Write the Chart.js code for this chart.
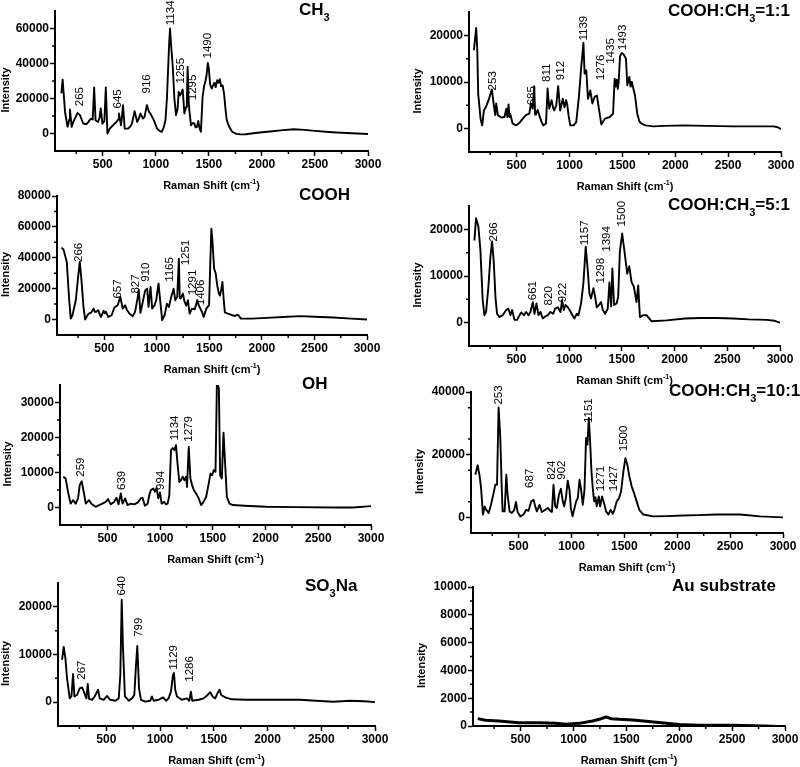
<!DOCTYPE html>
<html>
<head>
<meta charset="utf-8">
<script src="https://cdn.jsdelivr.net/npm/chart.js@4.4.1/dist/chart.umd.min.js"></script>
<style>
  html, body { margin: 0; padding: 0; background: #fff; }
  #wrap { position: relative; width: 800px; height: 767px; overflow: hidden; }
  #wrap canvas { position: absolute; }
</style>
</head>
<body>
<div id="wrap"></div>
<script>
// ---- data: [Raman shift (cm-1), intensity] ----
const ch3Spectrum = [[110,23000],[122,30800],[145,12000],[169,3800],[185,8000],[191,13700],[207,3800],[222,6600],[245,9500],[263,11800],[285,10500],[316,5700],[347,5300],[363,6500],[388,8500],[405,8000],[419,26300],[432,7600],[456,6600],[470,9000],[481,14300],[497,5700],[515,7000],[529,26300],[544,0],[566,2800],[597,4700],[629,6600],[645,8000],[653,11400],[672,4700],[680,9000],[691,16200],[707,2800],[738,2800],[760,4000],[775,5700],[800,12700],[825,6600],[840,8500],[856,11400],[879,8500],[894,9500],[916,16200],[935,12500],[950,11400],[981,7600],[1013,2800],[1035,1500],[1056,1000],[1075,3500],[1091,7600],[1105,20000],[1113,32400],[1125,50000],[1134,60000],[1145,50000],[1160,38100],[1175,20000],[1191,10500],[1205,14000],[1216,23800],[1228,21700],[1240,23000],[1253,25100],[1262,18000],[1269,11400],[1285,15200],[1293,20000],[1300,38100],[1308,20000],[1316,13300],[1332,4700],[1348,6000],[1363,5700],[1375,3500],[1388,3800],[1400,7200],[1412,3000],[1425,1000],[1441,20900],[1455,27000],[1468,30000],[1478,33000],[1490,40300],[1500,37000],[1512,28000],[1527,25700],[1540,27500],[1553,29000],[1565,26500],[1578,30500],[1590,29000],[1603,31000],[1615,27000],[1630,27500],[1645,22000],[1655,15000],[1668,8000],[1683,5000],[1700,3000],[1720,1000],[1760,-200],[1800,-500],[1850,-400],[1900,0],[2000,700],[2100,1300],[2200,1900],[2300,2400],[2400,2100],[2500,1500],[2600,1000],[2700,600],[2800,300],[2900,0],[3000,-300]];
const cooh11Spectrum = [[96,16800],[118,21600],[128,17000],[137,7500],[160,2000],[175,700],[191,3900],[213,4800],[235,6100],[254,7500],[266,8400],[285,5000],[298,2900],[307,5400],[323,2900],[355,2400],[386,2500],[402,4300],[413,2500],[424,5200],[432,2500],[440,3200],[462,1100],[494,700],[525,1200],[557,2100],[588,2900],[620,3200],[636,5400],[652,4300],[667,9100],[675,3000],[683,3200],[700,4000],[714,2900],[735,1500],[752,700],[778,1100],[793,8600],[809,4300],[831,6100],[845,4500],[856,3900],[875,5000],[893,9100],[912,3900],[937,6400],[953,4600],[969,6100],[980,5000],[991,2900],[1007,700],[1039,700],[1064,1400],[1089,6800],[1111,13200],[1132,18400],[1143,11800],[1159,12500],[1175,6400],[1197,8200],[1216,5400],[1238,6800],[1260,7100],[1276,4600],[1301,900],[1333,2100],[1380,2500],[1412,3200],[1427,10700],[1437,9000],[1447,10500],[1457,8500],[1465,10000],[1478,15500],[1493,16200],[1510,16000],[1534,15000],[1547,9300],[1566,11100],[1578,9000],[1590,10000],[1604,8600],[1620,7000],[1641,3200],[1662,1500],[1682,1100],[1720,700],[1793,500],[1900,600],[2077,700],[2300,600],[2549,500],[2800,500],[2928,500],[2970,300],[3000,-100]];
const coohSpectrum = [[92,46600],[110,45500],[118,43800],[143,37300],[166,12500],[181,600],[197,2800],[229,12500],[251,27600],[267,37300],[283,25400],[302,8200],[318,0],[340,2800],[355,4000],[372,4300],[385,5500],[398,7100],[410,5000],[420,5000],[443,6000],[458,3000],[468,1700],[494,5600],[505,4000],[516,5000],[538,1700],[570,2800],[596,7800],[627,9300],[653,14700],[675,7100],[698,9300],[717,6000],[739,3900],[771,2200],[793,5000],[818,14200],[828,19400],[844,4300],[866,11400],[889,18900],[908,20000],[921,8200],[940,21100],[956,7100],[978,9300],[994,12500],[1016,23300],[1035,10300],[1051,-400],[1074,2800],[1096,10300],[1115,8200],[1137,14700],[1160,20000],[1175,12500],[1194,14700],[1210,39400],[1218,14000],[1226,13600],[1248,16800],[1264,11400],[1280,9000],[1296,12500],[1312,3900],[1334,7100],[1360,6600],[1385,12500],[1400,9000],[1414,7100],[1430,4900],[1446,1700],[1471,7100],[1497,9300],[1508,35000],[1519,58900],[1530,50000],[1545,33000],[1560,30000],[1575,22000],[1590,17000],[1600,15500],[1612,19000],[1624,24400],[1634,15000],[1647,4700],[1670,4000],[1710,3000],[1740,2300],[1765,3000],[1780,2500],[1800,600],[1900,600],[2045,1100],[2200,1700],[2363,2200],[2500,1800],[2682,1300],[2850,600],[3000,0]];
const cooh5Spectrum = [[101,17600],[117,22400],[139,20600],[158,15600],[180,4800],[196,1600],[212,2300],[234,7700],[253,14100],[269,17400],[285,13000],[301,5500],[316,1900],[338,1200],[370,1600],[402,2700],[424,3000],[443,1600],[459,2700],[481,600],[506,600],[529,1600],[545,2200],[570,1600],[592,2300],[614,1600],[633,2300],[655,4400],[671,1900],[690,4100],[709,1600],[728,2300],[750,900],[772,1300],[798,1600],[823,2300],[848,1900],[867,3000],[892,3300],[918,2300],[933,4800],[949,2700],[965,3800],[987,3300],[1010,2500],[1031,1600],[1050,900],[1072,1900],[1088,1600],[1113,4100],[1135,8400],[1157,16300],[1176,11300],[1192,6300],[1208,5200],[1230,7400],[1246,5600],[1262,3300],[1284,3800],[1303,4400],[1318,2800],[1341,1900],[1366,3000],[1382,8600],[1398,3500],[1410,11600],[1426,3800],[1450,4100],[1465,5500],[1481,15200],[1503,19100],[1529,14500],[1551,10500],[1570,12100],[1592,8700],[1614,7700],[1639,4400],[1655,8000],[1671,1200],[1703,1600],[1734,1600],[1782,300],[1924,500],[2100,900],[2241,1000],[2400,1000],[2557,900],[2700,700],[2874,600],[2950,400],[3000,0]];
const ohSpectrum = [[81,8800],[103,8300],[129,4000],[151,1100],[173,2100],[199,1100],[221,2600],[237,6400],[256,7500],[278,4000],[294,1100],[325,2100],[350,1000],[389,200],[421,700],[452,1100],[484,1600],[506,2400],[532,900],[563,1600],[586,2800],[605,900],[627,4000],[643,1100],[668,2600],[690,700],[722,1100],[754,900],[786,1400],[817,2600],[833,2800],[855,500],[881,1100],[897,3500],[912,5000],[935,5400],[951,4500],[966,5600],[982,2600],[998,4300],[1014,1100],[1039,1600],[1055,900],[1071,1100],[1087,3500],[1103,16400],[1119,17000],[1135,16400],[1150,17800],[1166,12100],[1182,7300],[1198,7800],[1214,8800],[1230,7800],[1246,8800],[1255,5900],[1271,17300],[1287,8300],[1303,6400],[1319,5000],[1341,4000],[1366,2600],[1388,700],[1411,1600],[1436,3000],[1461,6900],[1477,9700],[1493,9200],[1509,10700],[1525,10200],[1538,34800],[1548,35000],[1557,34000],[1569,9200],[1585,8300],[1601,21400],[1617,12100],[1633,3000],[1658,1100],[1690,700],[1800,500],[2007,200],[2300,100],[2642,0],[2832,0],[3000,400]];
const cooh10Spectrum = [[91,13600],[113,16600],[132,13100],[145,9400],[163,900],[179,3500],[195,2400],[217,1400],[239,4000],[264,7800],[280,10400],[296,10400],[311,35100],[327,25300],[340,10000],[349,1900],[368,1900],[384,13600],[396,7200],[415,1900],[437,1400],[459,2400],[475,4900],[491,1700],[516,300],[547,900],[572,2400],[594,2100],[620,5100],[642,5600],[657,3500],[673,1900],[698,4000],[720,1700],[752,2400],[777,3000],[799,2100],[815,1700],[830,10400],[846,3500],[862,3000],[881,7200],[900,9100],[918,5100],[931,3500],[947,6200],[965,11700],[981,8800],[994,3000],[1010,300],[1025,2400],[1044,5100],[1060,6200],[1076,12000],[1091,8800],[1107,4000],[1123,8800],[1138,25300],[1151,23200],[1164,31700],[1176,24300],[1189,14700],[1201,9400],[1214,5100],[1227,6400],[1239,3500],[1258,6700],[1271,3500],[1289,6700],[1308,4600],[1327,1900],[1349,900],[1371,2400],[1390,1100],[1406,2400],[1428,5100],[1450,6200],[1469,8300],[1491,14700],[1510,18900],[1528,16800],[1547,13100],[1569,9900],[1591,7800],[1616,5100],[1641,2400],[1679,900],[1774,300],[1900,400],[2057,600],[2200,700],[2371,900],[2591,900],[2700,600],[2780,300],[3000,0]];
const so3naSpectrum = [[88,8900],[103,11600],[119,9200],[134,5000],[159,800],[175,1200],[190,5900],[203,1200],[227,1500],[252,2900],[274,3100],[296,1900],[314,800],[327,3800],[339,700],[367,500],[392,1200],[423,2600],[438,800],[475,500],[506,1300],[537,500],[584,300],[615,800],[630,5700],[643,21500],[655,11300],[673,1200],[708,300],[739,800],[760,1500],[776,7800],[788,11800],[804,2900],[822,500],[862,100],[909,300],[924,1200],[940,300],[986,500],[1027,1000],[1055,300],[1079,800],[1101,2200],[1120,5700],[1129,6100],[1141,2600],[1157,1200],[1203,500],[1250,800],[1271,300],[1287,2200],[1299,300],[1358,500],[1405,800],[1442,1500],[1467,2100],[1488,1200],[1513,800],[1535,1900],[1553,2600],[1569,1500],[1606,1000],[1668,600],[1800,500],[1993,500],[2150,500],[2303,500],[2450,300],[2613,100],[2768,300],[2900,200],[3000,0]];
const auSpectrum = [[95,530],[168,410],[294,360],[484,240],[674,240],[832,190],[927,120],[1054,190],[1180,360],[1244,480],[1307,650],[1355,530],[1434,480],[1560,430],[1687,340],[1877,190],[2003,100],[2193,50],[2510,50],[2800,0],[3000,-50]];

// peak labels: text, shift where the label stands, intensity at its foot
const ch3Peaks = [265, 645, 916, 1134, 1255, 1295, 1490];
const ch3PeakX = [280, 642, 914, 1142, 1233, 1352, 1492];
const ch3PeakY = [15600, 14300, 22900, 61900, 28600, 19000, 42900];
const cooh11Peaks = [253, 685, 811, 912, 1139, 1276, 1435, 1493];
const cooh11PeakX = [279, 648, 784, 916, 1137, 1298, 1389, 1503];
const cooh11PeakY = [8200, 5000, 10000, 10400, 18900, 10400, 13900, 16800];
const coohPeaks = [266, 657, 827, 910, 1165, 1251, 1291, 1406];
const coohPeakX = [261, 627, 803, 898, 1121, 1274, 1338, 1417];
const coohPeakY = [37300, 13600, 16800, 24400, 24400, 35100, 15700, 9300];
const cooh5Peaks = [266, 661, 820, 922, 1157, 1298, 1394, 1500];
const cooh5PeakX = [288, 658, 807, 937, 1149, 1298, 1355, 1497];
const cooh5PeakY = [17400, 4800, 3700, 4400, 16600, 8400, 15200, 20600];
const ohPeaks = [259, 639, 994, 1134, 1279];
const ohPeakX = [246, 636, 1008, 1135, 1271];
const ohPeakY = [8800, 5000, 5000, 19200, 18800];
const cooh10Peaks = [253, 687, 824, 902, 1151, 1271, 1427, 1500];
const cooh10PeakX = [311, 610, 815, 909, 1160, 1277, 1396, 1497];
const cooh10PeakY = [36000, 9400, 12000, 12000, 30100, 8300, 8300, 21100];
const so3naPeaks = [267, 640, 799, 1129, 1286];
const so3naPeakX = [274, 646, 800, 1132, 1281];
const so3naPeakY = [4700, 22400, 13700, 6800, 4300];

// axis ticks
const xTicks = [500, 1000, 1500, 2000, 2500, 3000];
const xMinorTicks = [250, 750, 1250, 1750, 2250, 2750];
const ticks60k = [0, 20000, 40000, 60000];
const ticks80k = [0, 20000, 40000, 60000, 80000];
const ticks20k = [0, 10000, 20000];
const ticks30k = [0, 10000, 20000, 30000];
const ticks40k = [0, 20000, 40000];
const ticksAu = [0, 2000, 4000, 6000, 8000, 10000];

const FONT = "'Liberation Sans', Arial, Helvetica, sans-serif";

// area = [left, top, right, bottom] of the plot frame on the page
const panels = [
  { spectrum: ch3Spectrum, peaks: ch3Peaks, peakX: ch3PeakX, peakY: ch3PeakY, yTicks: ticks60k, yMin: -10000, yMax: 70000, yMinor: 10000,
    col: 0, area: [55, 11, 368, 151], yTitleX: 6, title: [['CH', 0], ['3', 1]], titleAt: [299, 15] },
  { spectrum: cooh11Spectrum, peaks: cooh11Peaks, peakX: cooh11PeakX, peakY: cooh11PeakY, yTicks: ticks20k, yMin: -5000, yMax: 25000, yMinor: 5000,
    col: 400, area: [469, 12, 781, 152], yTitleX: 418, title: [['COOH:CH', 0], ['3', 1], ['=1:1', 0]], titleAt: [668, 16] },
  { spectrum: coohSpectrum, peaks: coohPeaks, peakX: coohPeakX, peakY: coohPeakY, yTicks: ticks80k, yMin: -10000, yMax: 80000, yMinor: 10000,
    col: 0, area: [57, 196, 367, 335], yTitleX: 6, title: [['COOH', 0]], titleAt: [299, 200] },
  { spectrum: cooh5Spectrum, peaks: cooh5Peaks, peakX: cooh5PeakX, peakY: cooh5PeakY, yTicks: ticks20k, yMin: -5000, yMax: 25000, yMinor: 5000,
    col: 400, area: [469, 206, 780, 346], yTitleX: 418, title: [['COOH:CH', 0], ['3', 1], ['=5:1', 0]], titleAt: [668, 210] },
  { spectrum: ohSpectrum, peaks: ohPeaks, peakX: ohPeakX, peakY: ohPeakY, yTicks: ticks30k, yMin: -5000, yMax: 35000, yMinor: 5000,
    col: 0, area: [60, 385, 371, 525], yTitleX: 7.5, title: [['OH', 0]], titleAt: [302, 389] },
  { spectrum: cooh10Spectrum, peaks: cooh10Peaks, peakX: cooh10PeakX, peakY: cooh10PeakY, yTicks: ticks40k, yMin: -5000, yMax: 40000, yMinor: 10000,
    col: 400, area: [471, 392, 783, 533], yTitleX: 419.5, title: [['COOH:CH', 0], ['3', 1], ['=10:1', 0]], titleAt: [669, 395.5] },
  { spectrum: so3naSpectrum, peaks: so3naPeaks, peakX: so3naPeakX, peakY: so3naPeakY, yTicks: ticks20k, yMin: -5000, yMax: 25000, yMinor: 5000,
    col: 0, area: [58, 583, 375, 726], yTitleX: 6, title: [['SO', 0], ['3', 1], ['Na', 0]], titleAt: [305, 591] },
  { spectrum: auSpectrum, peaks: [], peakX: [], peakY: [], yTicks: ticksAu, yMin: 0, yMax: 10000, yMinor: 1000,
    col: 400, area: [473, 587, 785, 726], yTitleX: 422, title: [['Au substrate', 0]], titleAt: [672, 591], thick: true },
];

// parts: [text, kind] with kind 0 = normal, 1 = subscript, 2 = superscript
function drawParts(ctx, parts, x, y, size, smallSize, shift, align) {
  const fontFor = (k) => `bold ${k ? smallSize : size}px ${FONT}`;
  let total = 0;
  parts.forEach(([t, k]) => { ctx.font = fontFor(k); total += ctx.measureText(t).width; });
  let cx = align === 'center' ? x - total / 2 : x;
  ctx.textAlign = 'left';
  ctx.textBaseline = 'alphabetic';
  parts.forEach(([t, k]) => {
    ctx.font = fontFor(k);
    const dy = k === 1 ? shift : k === 2 ? -shift : 0;
    ctx.fillText(t, cx, y + dy);
    cx += ctx.measureText(t).width;
  });
}

function panelText(p, left, top) {
  return {
    id: 'panelText',
    afterDraw(chart) {
      const { ctx, chartArea: a, scales } = chart;
      ctx.save();
      ctx.fillStyle = '#000';
      ctx.strokeStyle = '#000';

      // minor ticks
      ctx.lineWidth = 1.5;
      ctx.beginPath();
      xMinorTicks.forEach((v) => {
        const px = scales.x.getPixelForValue(v);
        ctx.moveTo(px, a.bottom);
        ctx.lineTo(px, a.bottom + 3);
      });
      for (let v = p.yMin + p.yMinor; v < p.yMax; v += p.yMinor) {
        if (p.yTicks.includes(v)) continue;
        const py = scales.y.getPixelForValue(v);
        ctx.moveTo(a.left - 3, py);
        ctx.lineTo(a.left, py);
      }
      ctx.stroke();

      // peak labels
      ctx.font = `11.5px ${FONT}`;
      ctx.textAlign = 'left';
      ctx.textBaseline = 'middle';
      p.peaks.forEach((t, i) => {
        ctx.save();
        ctx.translate(scales.x.getPixelForValue(p.peakX[i]), scales.y.getPixelForValue(p.peakY[i]));
        ctx.rotate(-Math.PI / 2);
        ctx.fillText(String(t), 0, 0);
        ctx.restore();
      });

      // axis titles
      ctx.font = `bold 11px ${FONT}`;
      ctx.textAlign = 'center';
      ctx.save();
      ctx.translate(p.yTitleX - left, (a.top + a.bottom) / 2 + 9);
      ctx.rotate(-Math.PI / 2);
      ctx.fillText('Intensity', 0, 0);
      ctx.restore();
      drawParts(ctx, [['Raman Shift (cm', 0], ['-1', 2], [')', 0]], (a.left + a.right) / 2, a.bottom + 37.5, 11, 7, 4.5, 'center');

      // panel title
      drawParts(ctx, p.title, p.titleAt[0] - left, p.titleAt[1] - top, 17, 11, 6, 'left');
      ctx.restore();
    },
  };
}

const wrap = document.getElementById('wrap');
const tickFont = { family: FONT, size: 12, weight: 'bold' };

panels.forEach((p) => {
  const [al, at, ar, ab] = p.area;
  const left = p.col;
  const top = at - 20;
  const canvas = document.createElement('canvas');
  canvas.width = 400;
  canvas.height = ab - at + 70;
  canvas.style.left = left + 'px';
  canvas.style.top = top + 'px';
  wrap.appendChild(canvas);

  // eslint-disable-next-line no-new
  new Chart(canvas, {
    type: 'line',
    data: {
      datasets: [
        {
          data: p.spectrum.map(([x, y]) => ({ x, y })),
          borderColor: '#000',
          borderWidth: p.thick ? 3 : 1.9,
          borderJoinStyle: 'round',
          pointRadius: 0,
          tension: 0,
          fill: false,
        },
      ],
    },
    options: {
      responsive: false,
      animation: false,
      devicePixelRatio: 1,
      layout: { padding: { left: 0, top: 20, right: left + 400 - ar, bottom: 20 } },
      plugins: { legend: { display: false }, tooltip: { enabled: false } },
      scales: {
        x: {
          type: 'linear',
          min: 50,
          max: 3000,
          afterBuildTicks: (s) => { s.ticks = xTicks.map((v) => ({ value: v })); },
          afterFit: (s) => { s.height = 30; },
          ticks: { font: tickFont, color: '#000', padding: 1, maxRotation: 0, autoSkip: false, callback: (v) => String(v) },
          grid: { drawOnChartArea: false, tickLength: 5, tickWidth: 1.5, tickColor: '#000' },
          border: { color: '#000', width: 2 },
        },
        y: {
          type: 'linear',
          min: p.yMin,
          max: p.yMax,
          afterBuildTicks: (s) => { s.ticks = p.yTicks.map((v) => ({ value: v })); },
          afterFit: (s) => { s.width = al - left; },
          ticks: { font: tickFont, color: '#000', padding: 1, autoSkip: false, callback: (v) => String(v) },
          grid: { drawOnChartArea: false, tickLength: 5, tickWidth: 1.5, tickColor: '#000' },
          border: { color: '#000', width: 2 },
        },
      },
    },
    plugins: [panelText(p, left, top)],
  });
});
</script>
</body>
</html>
